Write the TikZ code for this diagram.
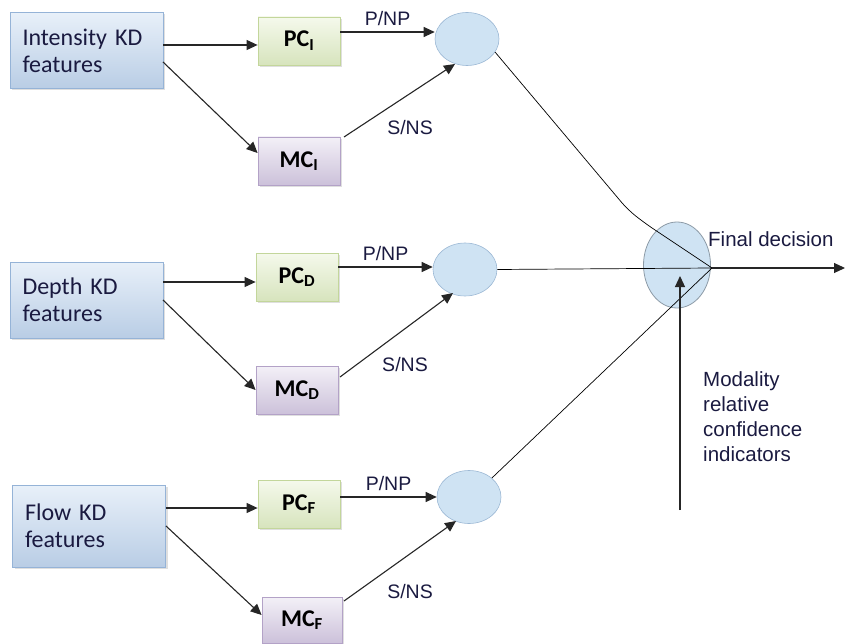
\documentclass[tikz,border=0pt]{standalone}
\usepackage{fontspec}
\setmainfont{Liberation Sans}
\newfontfamily\calfont{Carlito}
\usetikzlibrary{arrows.meta,shadows,calc,shapes.geometric}
\definecolor{featborder}{HTML}{95B3D7}
\definecolor{feattop}{HTML}{E8F0F9}
\definecolor{featbot}{HTML}{B9CDE5}
\definecolor{pcborder}{HTML}{C3D69B}
\definecolor{pctop}{HTML}{F5F9EC}
\definecolor{pcbot}{HTML}{D7E4BD}
\definecolor{mcborder}{HTML}{B3A2C7}
\definecolor{mctop}{HTML}{F3F0F7}
\definecolor{mcbot}{HTML}{CCC1DA}
\definecolor{ellfill}{HTML}{CFE3F3}
\definecolor{ellborder}{HTML}{9DB9D5}
\definecolor{bigborder}{HTML}{8C9AA6}
\definecolor{txt}{HTML}{1A1A40}
\tikzset{
  featbox/.style={draw=featborder, line width=0.8pt, top color=feattop, bottom color=featbot,
    minimum width=153pt, minimum height=76pt, inner sep=0pt,
    drop shadow={shadow xshift=2pt, shadow yshift=-2pt, opacity=0.25, fill=gray},
    font=\calfont\fontsize{24}{27}\selectfont, text=txt, align=left, text width=128pt},
  pcbox/.style={draw=pcborder, line width=0.8pt, top color=pctop, bottom color=pcbot,
    minimum width=82pt, minimum height=48pt, inner sep=0pt,
    drop shadow={shadow xshift=2pt, shadow yshift=-2pt, opacity=0.25, fill=gray},
    font=\calfont\bfseries\fontsize{24}{26}\selectfont},
  mcbox/.style={draw=mcborder, line width=0.8pt, top color=mctop, bottom color=mcbot,
    minimum width=82pt, minimum height=48pt, inner sep=0pt,
    drop shadow={shadow xshift=2pt, shadow yshift=-2pt, opacity=0.25, fill=gray},
    font=\calfont\bfseries\fontsize{24}{26}\selectfont},
  smallell/.style={ellipse, draw=ellborder, line width=0.6pt, fill=ellfill,
    minimum width=64pt, minimum height=53pt, inner sep=0pt},
  bigell/.style={ellipse, draw=bigborder, line width=0.8pt, fill=ellfill,
    minimum width=67pt, minimum height=86pt, inner sep=0pt},
  arr/.style={-{Triangle[length=11pt,width=10pt]}, line width=1.1pt, black!85},
  thinline/.style={line width=0.7pt, black},
  lbl/.style={font=\fontsize{19.5}{21}\selectfont, text=txt, inner sep=0pt},
}
\begin{document}
\begin{tikzpicture}[x=1pt,y=-1pt]
\useasboundingbox (0,0) rectangle (845,644);
% feature boxes
\node[featbox] (fi) at (86.5,50.5) {Intensity KD\\features};
\node[featbox] (fd) at (86.5,300) {Depth KD\\features};
\node[featbox, minimum height=82pt] (ff) at (89,526) {Flow KD\\features};
% classifiers
\node[pcbox] (pci) at (299,41) {PC\textsubscript{I}};
\node[mcbox] (mci) at (299,161) {MC\textsubscript{I}};
\node[pcbox] (pcd) at (297,277) {PC\textsubscript{D}};
\node[mcbox] (mcd) at (297,390) {MC\textsubscript{D}};
\node[pcbox] (pcf) at (299,504) {PC\textsubscript{F}};
\node[mcbox, minimum width=80pt, minimum height=46pt] (mcf) at (302,620) {MC\textsubscript{F}};
% small ellipses
\node[smallell] (ei) at (467,39) {};
\node[smallell] (ed) at (465,269.5) {};
\node[smallell] (ef) at (469,497) {};
% big ellipse
\node[bigell] (eb) at (677,265) {};
\coordinate (conv) at (712,268);
\coordinate (outend) at (845,268);
\coordinate (mbot) at (680,510);
\coordinate (mtop) at (680,276);
% arrows intensity
\draw[arr] (fi.east |- 0,45) -- (pci.west |- 0,45);
\draw[arr] (163,62) -- (mci.west |- 0,153);
\draw[arr] (pci.east |- 0,32) -- (ei.west |- 0,32) node[lbl, midway, above=6pt] {P/NP};
\draw[arr] (344,137) -- (455,64);
\node[lbl] (sni) at (410,128) {S/NS};
% arrows depth
\draw[arr] (fd.east |- 0,282) -- (pcd.west |- 0,282);
\draw[arr] (163,300) -- (mcd.west |- 0,390);
\draw[arr] (pcd.east |- 0,267) -- (ed.west |- 0,267) node[lbl, midway, above=6pt] {P/NP};
\draw[arr] (340,377) -- (453,293);
\node[lbl] (snd) at (405,365) {S/NS};
% arrows flow
\draw[arr] (ff.east |- 0,508) -- (pcf.west |- 0,508);
\draw[arr] (166,526) -- (mcf.west |- 0,615);
\draw[arr] (pcf.east |- 0,497) -- (ef.west |- 0,497) node[lbl, midway, above=6pt] {P/NP};
\draw[arr] (344,601) -- (456,521);
\node[lbl] (snf) at (410,592) {S/NS};
% fusion lines
\draw[thinline, rounded corners=10pt] (495,52) -- (628,210) -- (646,224) -- (conv);
\draw[thinline] (ed.east) -- (conv);
\draw[thinline] (ef.north east) -- (conv);
\draw[arr] (conv) -- (outend);
\draw[arr] (mbot) -- (mtop);
\node[lbl, anchor=west, font=\fontsize{20.5}{22}\selectfont] (fdlbl) at (708,239) {Final decision};
\node[lbl, anchor=north west, align=left, font=\fontsize{20.5}{25}\selectfont] (mod) at (703,371) {Modality\\relative\\confidence\\indicators};
\end{tikzpicture}
\end{document}
